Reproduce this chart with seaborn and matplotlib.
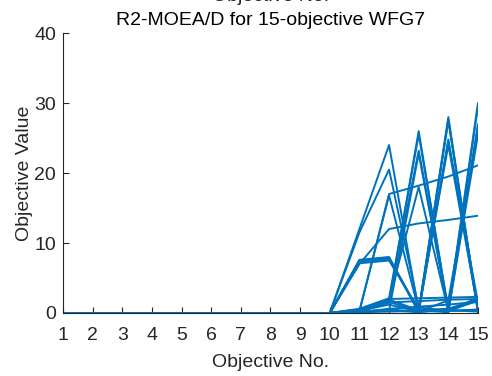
import matplotlib
matplotlib.use("Agg")
import matplotlib.pyplot as plt
import seaborn as sns
import pandas as pd

objectives = list(range(1, 16))
xtick_labels = [str(i) for i in objectives]
ytick_values = [0, 10, 20, 30, 40]

# each solution: objective values for objectives 1..15
s01 = [0, 0, 0, 0, 0, 0, 0, 0, 0, 0, 12.0, 24.0, 0.3, 0.4, 0.2]
s02 = [0, 0, 0, 0, 0, 0, 0, 0, 0, 0, 11.5, 20.5, 0.8, 0.3, 0.5]
s03 = [0, 0, 0, 0, 0, 0, 0, 0, 0, 0, 0.4, 1.5, 26.0, 0.2, 1.9]
s04 = [0, 0, 0, 0, 0, 0, 0, 0, 0, 0, 0.3, 1.8, 23.2, 0.4, 1.7]
s05 = [0, 0, 0, 0, 0, 0, 0, 0, 0, 0, 0.1, 0.2, 0.3, 28.0, 0.1]
s06 = [0, 0, 0, 0, 0, 0, 0, 0, 0, 0, 0.2, 1.6, 0.2, 24.8, 0.4]
s07 = [0, 0, 0, 0, 0, 0, 0, 0, 0, 0, 0.1, 0.4, 0.1, 0.6, 30.0]
s08 = [0, 0, 0, 0, 0, 0, 0, 0, 0, 0, 0.3, 1.9, 0.4, 0.1, 26.6]
s09 = [0, 0, 0, 0, 0, 0, 0, 0, 0, 0, 0.2, 17.0, 18.2, 19.5, 21.1]
s10 = [0, 0, 0, 0, 0, 0, 0, 0, 0, 0, 7.0, 12.0, 12.8, 13.3, 13.9]
s11 = [0, 0, 0, 0, 0, 0, 0, 0, 0, 0, 7.3, 7.8, 0.3, 27.5, 0.2]
s12 = [0, 0, 0, 0, 0, 0, 0, 0, 0, 0, 7.5, 7.9, 0.1, 24.5, 1.5]
s13 = [0, 0, 0, 0, 0, 0, 0, 0, 0, 0, 7.1, 7.5, 0.5, 0.2, 29.5]
s14 = [0, 0, 0, 0, 0, 0, 0, 0, 0, 0, 7.6, 8.0, 0.2, 1.8, 26.0]
s15 = [0, 0, 0, 0, 0, 0, 0, 0, 0, 0, 7.4, 7.7, 0.4, 0.6, 2.0]
s16 = [0, 0, 0, 0, 0, 0, 0, 0, 0, 0, 0.5, 1.9, 18.0, 0.3, 2.2]
s17 = [0, 0, 0, 0, 0, 0, 0, 0, 0, 0, 0.6, 2.1, 25.5, 0.5, 27.0]
s18 = [0, 0, 0, 0, 0, 0, 0, 0, 0, 0, 0.2, 0.3, 22.8, 0.2, 25.5]
s19 = [0, 0, 0, 0, 0, 0, 0, 0, 0, 0, 0.3, 1.2, 0.2, 27.6, 0.3]
s20 = [0, 0, 0, 0, 0, 0, 0, 0, 0, 0, 0.5, 2.0, 2.1, 2.2, 2.3]
s21 = [0, 0, 0, 0, 0, 0, 0, 0, 0, 0, 0.2, 1.5, 1.7, 1.9, 2.0]
s22 = [0, 0, 0, 0, 0, 0, 0, 0, 0, 0, 0.1, 0.6, 0.9, 1.2, 1.6]
s23 = [0, 0, 0, 0, 0, 0, 0, 0, 0, 0, 0.3, 16.8, 0.4, 24.0, 0.5]
s24 = [0, 0, 0, 0, 0, 0, 0, 0, 0, 0, 0.2, 0.5, 0.2, 0.3, 0.4]

solutions = [s01, s02, s03, s04, s05, s06, s07, s08, s09, s10, s11, s12,
             s13, s14, s15, s16, s17, s18, s19, s20, s21, s22, s23, s24]

rows = []
for k, sol in enumerate(solutions):
    for o, v in zip(objectives, sol):
        rows.append({"sol": k, "obj": o, "val": v})
df = pd.DataFrame(rows)

sns.set_theme(style="white")
plt.rcParams["font.family"] = ["Liberation Sans", "DejaVu Sans"]

fig = plt.figure(figsize=(4.92, 3.76), dpi=100)
ax = fig.add_axes([0.128, 0.1676, 0.8435, 0.7444])

color = "#0072BD"
sns.lineplot(data=df, x="obj", y="val", units="sol", estimator=None,
             color=color, linewidth=1.4, ax=ax, legend=False)

ax.set_xlim(1, 15)
ax.set_ylim(0, 40)
ax.set_xticks(objectives)
ax.set_xticklabels(xtick_labels)
ax.set_yticks(ytick_values)
ax.tick_params(direction="in", length=4, width=0.8, labelsize=14,
               colors="#262626", pad=5, left=True, bottom=True)
ax.tick_params(axis="x", pad=10)
for side in ["top", "right"]:
    ax.spines[side].set_visible(False)
for side in ["left", "bottom"]:
    ax.spines[side].set_color("#262626")
    ax.spines[side].set_linewidth(0.8)

ax.set_xlabel("Objective No.", fontsize=14, color="#262626", labelpad=7)
ax.set_ylabel("Objective Value", fontsize=14, color="#262626", labelpad=1)
ax.set_title("R2-MOEA/D for 15-objective WFG7", fontsize=14,
             color="black", pad=6)

fig.text(0.55, 1.0 - 1 / 376, "Objective No.", fontsize=14,
         color="#262626", ha="center", va="baseline")

fig.savefig("out.png", dpi=100)
